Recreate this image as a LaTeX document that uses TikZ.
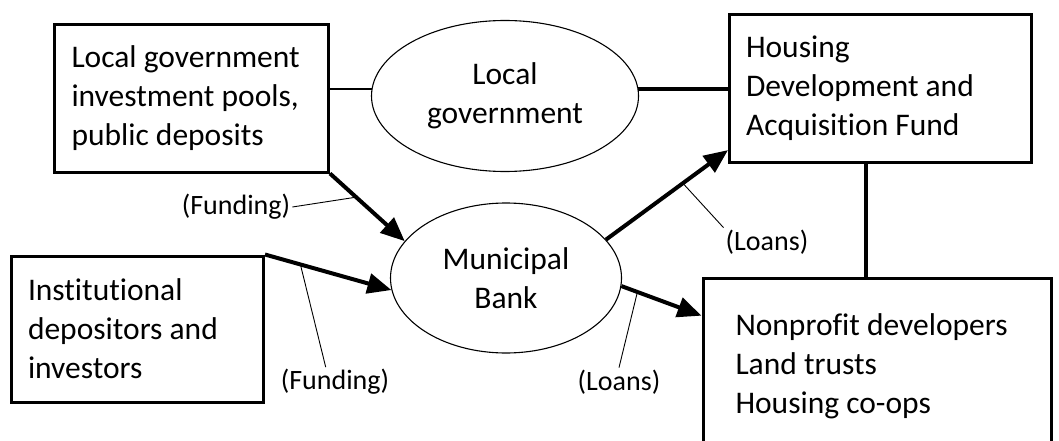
\documentclass[tikz,border=0pt]{standalone}
\usepackage{fontspec}
\setmainfont{Carlito}[Ligatures={NoCommon}]
\usetikzlibrary{arrows.meta,shapes.geometric}

\tikzset{
  flowbox/.style={draw, line width=3pt, align=flush left, inner ysep=0pt, font=\fontsize{31.5}{39}\selectfont},
  bankoval/.style={draw, ellipse, line width=1.1pt, inner sep=0pt, align=center, font=\fontsize{31.5}{39}\selectfont},
  money/.style={line width=4pt, -{Triangle[length=24pt,width=20pt]}},
  tag/.style={font=\fontsize{28}{32}\selectfont, inner sep=2pt},
  leader/.style={line width=0.9pt}
}

\begin{document}
\begin{tikzpicture}[x=1pt,y=-1pt]
\useasboundingbox (0,0) rectangle (1059,441);

\node[flowbox, text width=240pt, inner xsep=17pt, minimum height=147pt] (pools) at (191.5,98.5) {Local government\\investment pools,\\public deposits};
\node[flowbox, text width=269pt, inner xsep=16.5pt, minimum height=148pt] (fund) at (880.5,88.5) {Housing\\Development and\\Acquisition Fund};
\node[flowbox, text width=219pt, inner xsep=16.5pt, minimum height=146pt] (inst) at (137.5,329) {Institutional\\depositors and\\investors};
\node[flowbox, text width=283pt, inner xsep=32.5pt, minimum height=176pt] (nonprofit) at (877,366) {Nonprofit developers\\Land trusts\\Housing co-ops};

\node[bankoval, minimum width=267pt, minimum height=151pt] (locgov) at (505,96) {Local\\government};
\node[bankoval, minimum width=231pt, minimum height=150pt] (bank) at (506,278) {Municipal\\Bank};

\draw[line width=2pt] (locgov.177) -- (locgov.177 -| pools.east);
\draw[line width=4pt] (locgov.3) -- (locgov.3 -| fund.west);
\draw[line width=3.5pt] (fund.-101) -- (fund.-101 |- nonprofit.north);

\draw[money] (pools.south east) -- coordinate[pos=0.35] (fundA) (bank.160);
\draw[money] (inst.north east) -- coordinate[pos=0.28] (fundB) (bank.186);
\draw[money] (bank.21) -- coordinate[pos=0.63] (loanA) (fund.202);
\draw[money] (bank.-4) -- coordinate[pos=0.2] (loanB) (nonprofit.164);

\node[tag] (fundAtag) at (236,207) {(Funding)};
\node[tag] (fundBtag) at (335,382) {(Funding)};
\node[tag] (loanAtag) at (767,242) {(Loans)};
\node[tag] (loanBtag) at (619,382) {(Loans)};

\draw[leader] (fundAtag.east) -- (fundA);
\draw[leader] (fundBtag.122) -- (fundB);
\draw[leader] (loanAtag.north west) -- (loanA);
\draw[leader] (loanBtag.north) -- (loanB);
\end{tikzpicture}
\end{document}
